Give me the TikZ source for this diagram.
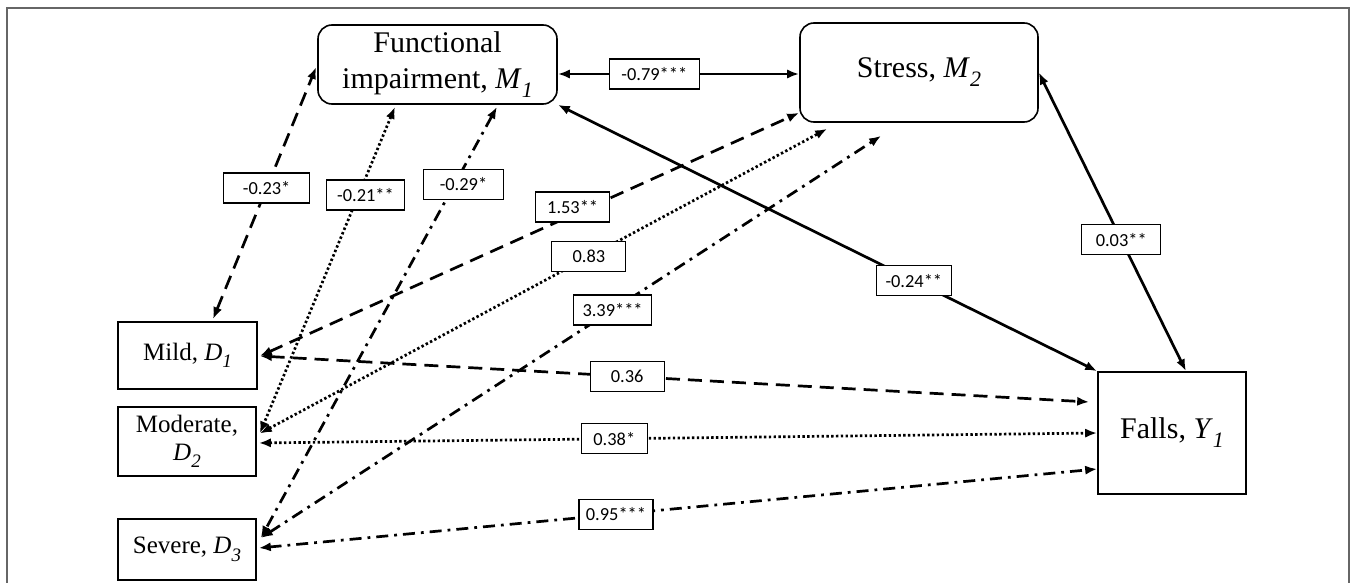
\documentclass[tikz,border=0pt]{standalone}
\usepackage{fontspec}
\setmainfont{Liberation Serif}
\newfontfamily\labfont{Carlito}
\usetikzlibrary{arrows.meta,calc}
\newcommand\subidx[2]{\raisebox{-0.3em}{\fontsize{#1}{#1}\selectfont\itshape #2}}
\begin{document}
\begin{tikzpicture}[x=0.5pt,y=-0.5pt,
 box/.style={draw, line width=0.8pt, inner sep=0pt, align=center},
 rbox/.style={box, rounded corners=7pt},
 big/.style={font=\fontsize{15}{18}\selectfont},
 mid/.style={font=\fontsize{12.5}{14}\selectfont},
 lab/.style={draw, solid, fill=white, line width=0.6pt, inner sep=0pt, minimum height=15pt, minimum width=#1, font=\labfont\fontsize{9.2}{10}\selectfont},
 link/.style={line width=1.35pt, {Latex[length=6pt,width=4.6pt]}-{Latex[length=6pt,width=4.6pt]}},
 solidlink/.style={link},
 dashlink/.style={link, dash pattern=on 7pt off 4pt},
 dotlink/.style={link, dash pattern=on 1.2pt off 1.2pt},
 dotdashlink/.style={link, dash pattern=on 6pt off 3pt on 1.4pt off 3pt},
]
\useasboundingbox (0,0) rectangle (1357,583);
\draw[black!60, line width=1pt] (7,583) -- (7,8) -- (1349,8) -- (1349,583);

\node[rbox, big, minimum width=119.5pt, minimum height=39.5pt] (m1) at (437.5,64.5) {Functional\\impairment, \textit{M}\subidx{11}{1}};
\node[rbox, big, minimum width=119pt, minimum height=49.5pt] (m2) at (919,72.5) {Stress, \textit{M}\subidx{11}{2}};
\node[box, mid, minimum width=69.5pt, minimum height=33.5pt] (d1) at (187.5,355.5) {Mild, \textit{D}\subidx{9.5}{1}};
\node[box, mid, minimum width=69pt, minimum height=34.5pt] (d2) at (187,441.5) {Moderate,\\\textit{D}\subidx{9.5}{2}};
\node[box, mid, minimum width=69pt, minimum height=30.5pt] (d3) at (187,549.5) {Severe, \textit{D}\subidx{9.5}{3}};
\node[box, big, minimum width=74pt, minimum height=61pt] (y1) at (1172,433) {Falls, \textit{Y}\subidx{11}{1}};

\draw[solidlink] ($(m1.east)+(0,9.5)$) -- node[lab=45pt,pos=0.40] (l1) {-0.79***} ($(m2.west)+(0,1.5)$);
\draw[solidlink] (m1.south east) -- node[lab=37.5pt,pos=0.66] (l2) {-0.24**} (y1.north west);
\draw[solidlink] (m2.east) -- node[lab=39.5pt,pos=0.56] (l3) {0.03**} ($(y1.north)+(14,0)$);

\draw[dashlink] ($(d1.north)+(25.5,-2)$) -- node[lab=43pt,pos=0.52] (l4) {-0.23*} ($(m1.west)+(-1,2.5)$);
\draw[dotlink] ($(m1.south)+(-42.5,2)$) -- node[lab=39pt,pos=0.27,xshift=3.5pt] (l5) {-0.21**} ($(d2.east)+(3,-8)$);
\draw[dotdashlink] ($(m1.south)+(59.5,2)$) -- node[lab=40pt,pos=0.18,xshift=4.5pt] (l6) {-0.29*} ($(d3.east)+(4,-11.5)$);

\draw[dashlink] ($(d1.east)+(2,0.5)$) -- node[lab=37pt,pos=0.58,yshift=4pt] (l7) {1.53**} ($(m2.south west)+(0,-10)$);
\draw[dotlink] ($(d2.east)+(3,-8)$) -- node[lab=37pt,pos=0.58] (l8) {0.83} ($(m2.south west)+(28,6)$);
\draw[dotdashlink] ($(d3.east)+(4,-11.5)$) -- node[lab=39pt,pos=0.567] (l9) {3.39***} ($(m2.south west)+(82,13)$);

\draw[dashlink] ($(d1.east)+(2,0.5)$) -- node[lab=37pt,pos=0.443] (l10) {0.36} ($(y1.west)+(-8,-31)$);
\draw[dotlink] ($(d2.east)+(2,1.5)$) -- node[lab=33pt,pos=0.424] (l11) {0.38*} (y1.west);
\draw[dotdashlink] ($(d3.east)+(2,-1.5)$) -- node[lab=37pt,pos=0.426] (l12) {0.95***} ($(y1.west)+(0,36)$);
\end{tikzpicture}
\end{document}
